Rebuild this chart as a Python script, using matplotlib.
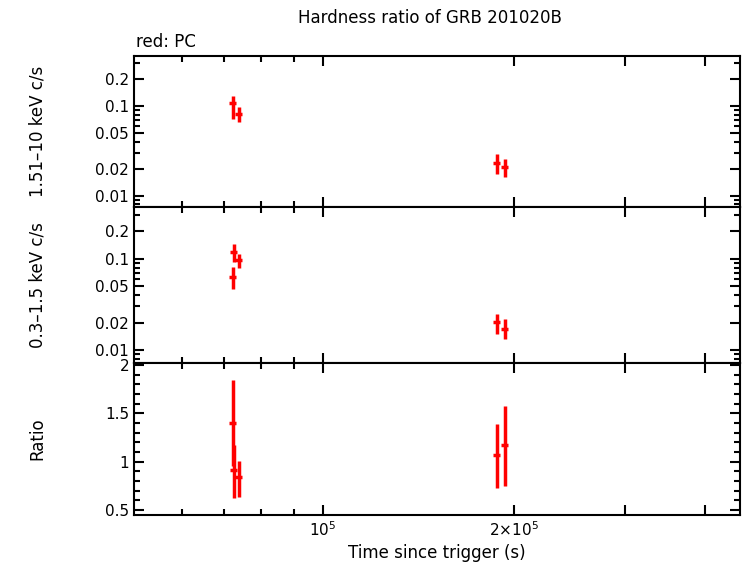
import numpy as np
import matplotlib.pyplot as plt
from matplotlib.ticker import FixedLocator, NullFormatter, FixedFormatter

# data
time = [72100, 72400, 73700, 188000, 193700]
hard = [0.108, np.nan, 0.081, 0.023, 0.021]
hard_lo = [0.072, np.nan, 0.066, 0.0177, 0.016]
hard_hi = [0.129, np.nan, 0.097, 0.029, 0.026]

soft_t = [72400, 72100, 73700, 188000, 193700]
soft = [0.119, 0.063, 0.098, 0.0205, 0.0168]
soft_lo = [0.093, 0.047, 0.080, 0.0151, 0.0131]
soft_hi = [0.146, 0.081, 0.113, 0.025, 0.0216]

ratio_t = [72100, 72400, 73700, 188000, 193700]
ratio = [1.40, 0.91, 0.84, 1.07, 1.17]
ratio_lo = [0.96, 0.63, 0.64, 0.73, 0.75]
ratio_hi = [1.84, 1.17, 1.01, 1.39, 1.58]

XLIM = (50400, 455000)

fig = plt.figure(figsize=(7.42, 5.66), dpi=100)
H = 566.0
def ax_at(top, bot):
    return fig.add_axes([134 / 742, 1 - bot / H, 606 / 742, (bot - top) / H])

axes = [ax_at(56, 207), ax_at(207, 363), ax_at(363, 515)]


def draw(ax, t, y, lo, hi):
    t = np.array(t, float); y = np.array(y, float)
    lo = np.array(lo, float); hi = np.array(hi, float)
    ax.errorbar(t, y, yerr=[y - lo, hi - y], xerr=t * 0.012, fmt="none",
                ecolor="red", elinewidth=2.5, capsize=0)


draw(axes[0], time, hard, hard_lo, hard_hi)
draw(axes[1], soft_t, soft, soft_lo, soft_hi)
draw(axes[2], ratio_t, ratio, ratio_lo, ratio_hi)

for ax in axes:
    ax.set_xscale("log")
    ax.set_xlim(*XLIM)
    ax.xaxis.set_major_locator(FixedLocator([1e5, 2e5, 3e5, 4e5]))
    ax.xaxis.set_minor_locator(FixedLocator([6e4, 7e4, 8e4, 9e4]))
    ax.xaxis.set_minor_formatter(NullFormatter())
    ax.tick_params(which="both", direction="in", top=True, right=True, labelsize=11)
    ax.tick_params(which="major", length=7, width=1.5)
    ax.tick_params(which="minor", length=4, width=1.5)
    for s in ax.spines.values():
        s.set_linewidth(1.5)

for ax in axes[:2]:
    ax.set_yscale("log")
    ax.xaxis.set_major_formatter(NullFormatter())
    ax.set_yticks([0.01, 0.02, 0.05, 0.1, 0.2])
    ax.set_yticklabels(["0.01", "0.02", "0.05", "0.1", "0.2"])

axes[0].set_ylim(0.0075, 0.36)
axes[1].set_ylim(0.0072, 0.37)
axes[2].set_ylim(0.45, 2.02)
axes[2].set_yticks([0.5, 1, 1.5, 2])
axes[2].set_yticklabels(["0.5", "1", "1.5", "2"])
axes[2].yaxis.set_minor_locator(FixedLocator(np.arange(0.5, 2.0, 0.1)))
axes[2].xaxis.set_major_formatter(FixedFormatter([r"10$^5$", r"2$\times$10$^5$", "", ""]))

axes[0].set_ylabel("1.51\u201310 keV c/s", fontsize=12)
axes[1].set_ylabel("0.3\u20131.5 keV c/s", fontsize=12)
axes[2].set_ylabel("Ratio", fontsize=12)
for ax in axes:
    ax.yaxis.set_label_coords(-0.145, 0.5)
axes[2].set_xlabel("Time since trigger (s)", fontsize=12)

fig.text(430 / 742, 1 - 18 / H, "Hardness ratio of GRB 201020B", ha="center", va="center", fontsize=12)
fig.text(136 / 742, 1 - 42 / H, "red: PC", ha="left", va="center", fontsize=12)

fig.savefig("out.png", dpi=100)
